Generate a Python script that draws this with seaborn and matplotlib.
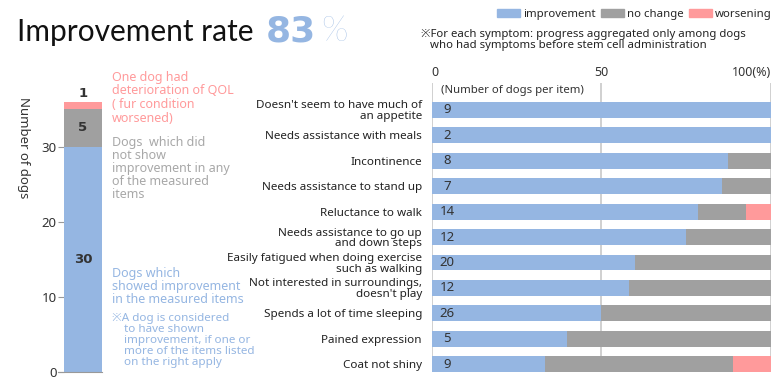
import seaborn as sns
import matplotlib.pyplot as plt
import pandas as pd
from matplotlib.patches import Patch

# overall result (number of dogs)
overall_labels = ['improvement', 'no change', 'worsening']
overall_counts = [30, 5, 1]

# per symptom counts
items = ["Doesn't seem to have much of\nan appetite",
         "Needs assistance with meals",
         "Incontinence",
         "Needs assistance to stand up",
         "Reluctance to walk",
         "Needs assistance to go up\nand down steps",
         "Easily fatigued when doing exercise\nsuch as walking",
         "Not interested in surroundings,\ndoesn't play",
         "Spends a lot of time sleeping",
         "Pained expression",
         "Coat not shiny"]
n_dogs = [9, 2, 8, 7, 14, 12, 20, 12, 26, 5, 9]
improved = [9, 2, 7, 6, 11, 9, 12, 7, 13, 2, 3]
no_change = [0, 0, 1, 1, 2, 3, 8, 5, 13, 3, 5]
worsened = [0, 0, 0, 0, 1, 0, 0, 0, 0, 0, 1]

BLUE = '#95b6e2'
GRAY = '#a0a0a0'
PINK = '#ff9a9b'
FONT = 'Noto Sans'

sns.set_style('white')
plt.rcParams['font.family'] = [FONT, 'DejaVu Sans']

fig = plt.figure(figsize=(7.81, 3.83), dpi=100)

# ---------- left: overall stacked bar ----------
axl = fig.add_axes([58 / 781, 1 - 371.7 / 383, 44 / 781, 311.7 / 383])
tot = pd.DataFrame({'g': ['all'],
                    'top': [sum(overall_counts)],
                    'mid': [overall_counts[0] + overall_counts[1]],
                    'low': [overall_counts[0]]})
sns.barplot(data=tot, x='g', y='top', color=PINK, width=0.8, saturation=1, linewidth=0, ax=axl)
sns.barplot(data=tot, x='g', y='mid', color=GRAY, width=0.8, saturation=1, linewidth=0, ax=axl)
sns.barplot(data=tot, x='g', y='low', color=BLUE, width=0.8, saturation=1, linewidth=0, ax=axl)
axl.set_xlim(-0.526, 0.4)
axl.set_ylim(0, 41.55)
axl.set_yticks([0, 10, 20, 30])
axl.tick_params(axis='y', direction='in', length=4, color='#999999', labelsize=9.5,
                labelcolor='#333333', pad=1, left=True)
axl.set_xticks([])
axl.set_xlabel('')
axl.set_ylabel('')
for s in ['left', 'right', 'top']:
    axl.spines[s].set_visible(False)
axl.spines['bottom'].set_color('#999999')
num_kw = dict(ha='center', fontsize=9.5, fontweight='bold', family='DejaVu Sans', color='#333333')
axl.text(0, overall_counts[0] / 2, str(overall_counts[0]), va='center', **num_kw)
axl.text(0, overall_counts[0] + overall_counts[1] / 2, str(overall_counts[1]), va='center', **num_kw)
axl.text(0, sum(overall_counts) + 0.2, str(overall_counts[2]), va='bottom', **num_kw)

fig.text(23 / 781, 1 - 148 / 383, 'Number of dogs', rotation=-90, ha='center', va='center',
         fontsize=9.5, color='#333333')

fig.text(112 / 781, 1 - 71 / 383, 'One dog had\ndeterioration of QOL\n( fur condition\nworsened)',
         ha='left', va='top', fontsize=9, color=PINK, linespacing=1.05)
fig.text(112 / 781, 1 - 136 / 383, 'Dogs  which did\nnot show\nimprovement in any\nof the measured\nitems',
         ha='left', va='top', fontsize=9, color='#a8a8a8', linespacing=1.0)
fig.text(112 / 781, 1 - 267 / 383, 'Dogs which\nshowed improvement\nin the measured items',
         ha='left', va='top', fontsize=9, color=BLUE, linespacing=1.0)
fig.text(112 / 781, 1 - 313 / 383,
         '※A dog is considered\n    to have shown\n    improvement, if one or\n    more of the items listed\n    on the right apply',
         ha='left', va='top', fontsize=8.4, color=BLUE, linespacing=1.0)

# ---------- right: per symptom ----------
axr = fig.add_axes([431.7 / 781, 1 - 372.3 / 383, 339 / 781, 289.3 / 383])
df = pd.DataFrame({'item': items, 'n': n_dogs, 'imp': improved, 'nc': no_change, 'wor': worsened})
df['p_all'] = (df['imp'] + df['nc'] + df['wor']) / df['n'] * 100
df['p_mid'] = (df['imp'] + df['nc']) / df['n'] * 100
df['p_imp'] = df['imp'] / df['n'] * 100

for x in [0, 50, 100]:
    axr.axvline(x, color='#c8c8c8', lw=1.2, zorder=0)
for col, c in [('p_all', PINK), ('p_mid', GRAY), ('p_imp', BLUE)]:
    sns.barplot(data=df, y='item', x=col, color=c, width=0.62, saturation=1, linewidth=0,
                ax=axr, zorder=2)
for i, n in enumerate(n_dogs):
    axr.text(4.6, i, str(n), ha='center', va='center', fontsize=9.5, color='#333333', zorder=3)

axr.set_xlim(0, 100)
axr.set_ylim(10.32, -1.06)
axr.set_xlabel('')
axr.set_ylabel('')
for s in axr.spines.values():
    s.set_visible(False)
axr.xaxis.tick_top()
axr.set_xticks([0, 50, 100])
axr.set_xticklabels(['0', '50', '100(%)'])
tl = axr.get_xticklabels()
tl[0].set_ha('left')
tl[2].set_ha('right')
axr.tick_params(axis='x', length=0, pad=3, labelsize=9, labelcolor='#333333')
axr.tick_params(axis='y', length=0, pad=7, labelsize=8.4, labelcolor='#222222')
for t in axr.get_yticklabels():
    t.set_linespacing(0.95)
axr.text(2.7, -0.75, '(Number of dogs per item)', ha='left', va='center', fontsize=8.2,
         color='#333333')

# ---------- header ----------
fig.text(17 / 781, 1 - 41 / 383, 'Improvement rate', ha='left', va='baseline',
         fontsize=21.5, family='Lato', color='#111111')
fig.text(266 / 781, 1 - 41 / 383, '83', ha='left', va='baseline',
         fontsize=26, fontweight='bold', family='DejaVu Sans', color=BLUE)
fig.text(321 / 781, 1 - 41 / 383, '%', ha='left', va='baseline',
         fontsize=25, fontweight='light', family='Lato', color=BLUE)

handles = [Patch(color=c, label=l) for c, l in zip([BLUE, GRAY, PINK], overall_labels)]
fig.legend(handles=handles, loc='upper right', bbox_to_anchor=(776 / 781, 1 - 4 / 383),
           ncol=3, frameon=False, fontsize=8.2, handlelength=2.0, handleheight=0.8,
           handletextpad=0.25, columnspacing=0.5, borderaxespad=0)
fig.text(421 / 781, 1 - 40 / 383,
         '※For each symptom: progress aggregated only among dogs\n   who had symptoms before stem cell administration',
         ha='left', va='center', fontsize=8.2, color='#222222', linespacing=1.0)

fig.savefig('out.png', dpi=100)
